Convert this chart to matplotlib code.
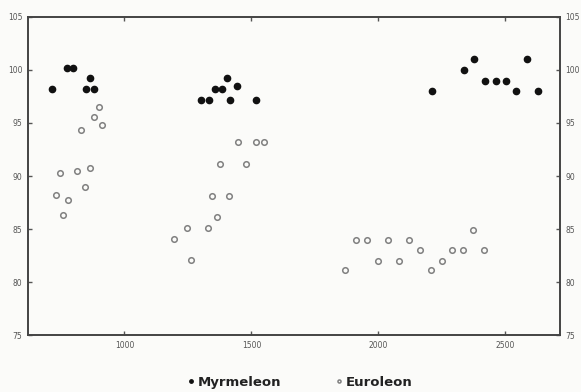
import numpy as np
import matplotlib.pyplot as plt

# Myrmeleon (filled dots)
myr_x = [715, 772, 798, 848, 866, 882,
         1303, 1331, 1358, 1386, 1402, 1415, 1445, 1517,
         2210, 2336, 2378, 2419, 2461, 2503, 2543, 2585, 2628]
myr_y = [98.2, 100.2, 100.2, 98.2, 99.2, 98.2,
         97.2, 97.2, 98.2, 98.2, 99.2, 97.2, 98.5, 97.2,
         98.0, 100.0, 101.0, 99.0, 99.0, 99.0, 98.0, 101.0, 98.0]

# Euroleon (open circles)
eur_x = [731, 748, 760, 778, 814, 829, 845, 863, 881, 898, 911,
         1194, 1247, 1261, 1330, 1344, 1365, 1378, 1412, 1446, 1478, 1516, 1548,
         1870, 1913, 1955, 1997, 2038, 2080, 2122, 2163, 2205, 2249, 2291, 2332,
         2374, 2416]
eur_y = [88.2, 90.3, 86.3, 87.7, 90.5, 94.3, 89.0, 90.75, 95.6, 96.5, 94.8,
         84.1, 85.1, 82.1, 85.1, 88.1, 86.1, 91.1, 88.1, 93.2, 91.1, 93.2, 93.2,
         81.1, 84.0, 84.0, 82.0, 84.0, 82.0, 84.0, 83.0, 81.1, 82.0, 83.0, 83.0,
         84.9, 83.0]

xticks = [1000, 1500, 2000, 2500]
yticks = [75, 80, 85, 90, 95, 100, 105]

fig = plt.figure(figsize=(5.81, 3.92), dpi=100)
fig.patch.set_facecolor('#fbfbf9')
ax = fig.add_axes([0.048, 0.145, 0.916, 0.812])
ax.set_facecolor('#fbfbf9')

ax.plot(myr_x, myr_y, 'o', ms=4.5, color='#111111', mec='#111111',
        label='Myrmeleon', ls='none')
ax.plot(eur_x, eur_y, 'o', ms=4.0, mfc='none', mec='#808080', mew=1.1,
        label='Euroleon', ls='none')

ax.set_xlim(620, 2715)
ax.set_ylim(75, 105)
ax.set_xticks(xticks)
ax.set_yticks(yticks)

for s in ax.spines.values():
    s.set_linewidth(1.4)
    s.set_color('#444444')

ax.tick_params(axis='both', direction='in', length=3, width=1, color='#555555',
               labelsize=5.5, labelcolor='#555555', pad=4)
ax.tick_params(axis='y', left=True, right=True, labelleft=True, labelright=True)
ax.tick_params(axis='x', top=True, bottom=True)

leg = ax.legend(loc='upper center', bbox_to_anchor=(0.51, -0.09), ncol=2,
                frameon=False, fontsize=9.5, handletextpad=0.1,
                columnspacing=4.0, markerscale=0.55, handlelength=0.8)
for t in leg.get_texts():
    t.set_fontweight('bold')
    t.set_color('#222222')

fig.savefig('out.png', dpi=100, facecolor=fig.get_facecolor())
